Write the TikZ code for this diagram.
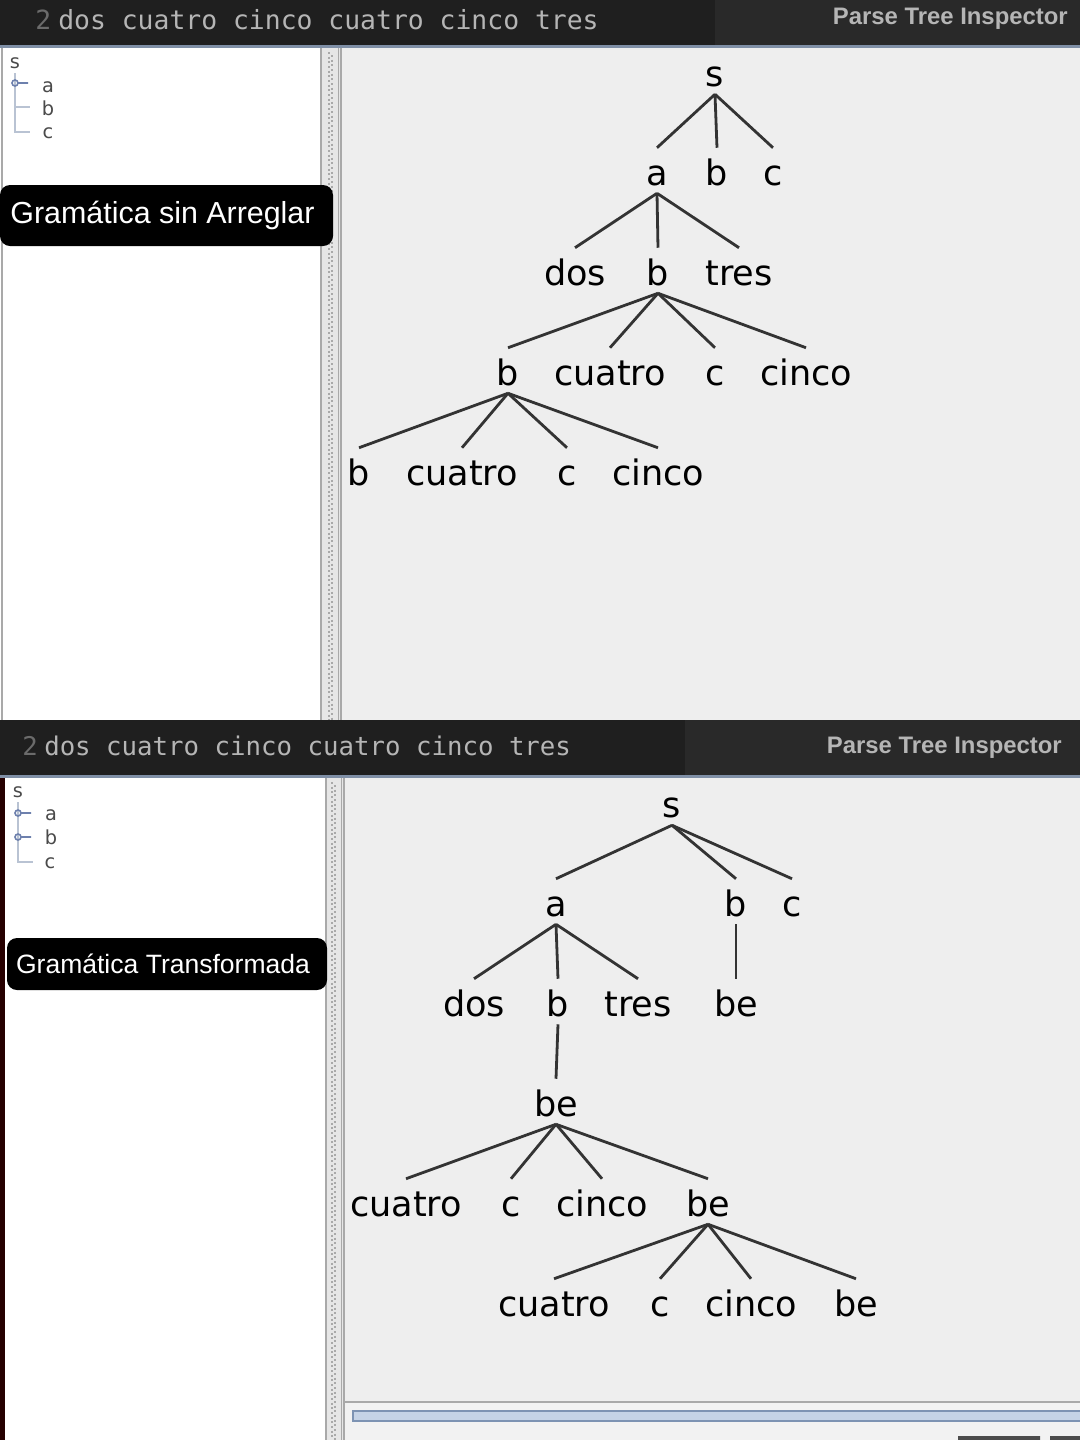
\documentclass[tikz,border=0pt]{standalone}
\usepackage{fontspec}
\newfontfamily\treefont{DejaVu Sans}
\newfontfamily\barfont{DejaVu Sans Mono}
\newfontfamily\tagfont{Liberation Sans}
\usetikzlibrary{positioning}
\definecolor{bardark}{HTML}{1F1F1F}
\definecolor{barmid}{HTML}{292929}
\definecolor{barline}{HTML}{7F8FA6}
\definecolor{barnum}{HTML}{6B6B6B}
\definecolor{bartext}{HTML}{B5B5B5}
\definecolor{canvas}{HTML}{EEEEEE}
\definecolor{splitgray}{HTML}{E6E6E6}
\definecolor{panelborder}{HTML}{A9A9A9}
\definecolor{edgegray}{HTML}{333333}
\definecolor{treeline}{HTML}{B9C3D3}
\definecolor{treeicon}{HTML}{6D80AD}
\definecolor{minitext}{HTML}{4A4A4A}
\definecolor{scrollfill}{HTML}{C5D3E6}
\definecolor{scrolledge}{HTML}{7D93B3}

\begin{document}
\begin{tikzpicture}[x=0.75pt,y=-0.75pt]
\tikzset{
    treelabel/.style={
           font=\treefont\fontsize{26.3}{30}\selectfont,
           inner sep=0pt,
           text height=27.75pt,
           text depth=6pt,
           anchor=base},
    branch/.style={
           line width=2.1pt,
           draw=edgegray},
    barcmd/.style={
           font=\barfont\fontsize{19.8}{22}\selectfont,
           text=bartext,
           inner sep=0pt,
           anchor=base west},
    bartitle/.style={
           font=\tagfont\bfseries\fontsize{17.9}{20}\selectfont,
           text=bartext,
           inner sep=0pt,
           anchor=base east},
    tagbox/.style={
           rectangle,
           rounded corners=7.5pt,
           fill=black,
           text=white,
           inner sep=0pt},
    minilabel/.style={
           font=\treefont\fontsize{14.5}{16}\selectfont,
           text=minitext,
           inner sep=0pt,
           anchor=base},
    % lines of the small tree on the left
    miniline/.style={
           line width=0.9pt,
           draw=treeline}
}
\useasboundingbox (0,0) rectangle (1080,1440);

% upper window
\fill[bardark] (0,0) rectangle (715,45);
\fill[barmid] (715,0) rectangle (1080,45);
\fill[barline] (0,45) rectangle (1080,48);
\fill[white] (0,48) rectangle (320,720);
\draw[panelborder,line width=1.5pt] (2,48) -- (2,720);
\fill[splitgray] (320,48) rectangle (340,720);
\draw[panelborder,line width=1pt] (321,48) -- (321,720) (338.5,48) -- (338.5,720);
\draw[panelborder,dotted,line width=1.5pt] (329,52) -- (329,720);
\draw[panelborder,dotted,line width=1.5pt] (332,55) -- (332,720);
\fill[canvas] (340,48) rectangle (1080,720);
\draw[panelborder,line width=1.5pt] (341,48) -- (341,720);

\node[barcmd,text=barnum] (num1) at (35,29) {2};
\node[barcmd] (cmd1) at (58,29) {dos cuatro cinco cuatro cinco tres};
\node[bartitle] (title1) at (1068,24) {Parse Tree Inspector};

\node[minilabel] (ms1) at (15,68) {s};
\node[minilabel] (ma1) at (48,92) {a};
\node[minilabel] (mb1) at (48,115) {b};
\node[minilabel] (mc1) at (48,138) {c};
\draw[miniline] (15,73) -- (15,132) -- (30,132);
\draw[miniline] (15,107) -- (30,107);
\draw[treeicon,line width=1.2pt] (15,83) circle (3) (18,83) -- (28,83);

\node[tagbox,minimum width=249.75pt,minimum height=45.75pt,
      font=\tagfont\fontsize{22.8}{26}\selectfont] (tag1) at (166.5,215.5) {Gramática sin Arreglar\hspace*{6pt}};

% first parse tree
\node[treelabel] (s1) at (715,86) {s};
\node[treelabel] (a1) at (657,185) {a};
\node[treelabel] (b1) at (717,185) {b};
\node[treelabel] (c1) at (773,185) {c};
\node[treelabel] (dos1) at (575,285) {dos};
\node[treelabel] (bb1) at (658,285) {b};
\node[treelabel] (tres1) at (739,285) {tres};
\node[treelabel] (bbb1) at (508,385) {b};
\node[treelabel] (cua1) at (610,385) {cuatro};
\node[treelabel] (cc1) at (715,385) {c};
\node[treelabel] (cin1) at (806,385) {cinco};
\node[treelabel] (bbbb1) at (359,485) {b};
\node[treelabel] (cuaa1) at (462,485) {cuatro};
\node[treelabel] (ccc1) at (567,485) {c};
\node[treelabel] (cinn1) at (658,485) {cinco};
\draw[branch] (s1.south) -- (a1.north);
\draw[branch] (s1.south) -- (b1.north);
\draw[branch] (s1.south) -- (c1.north);
\draw[branch] (a1.south) -- (dos1.north);
\draw[branch] (a1.south) -- (bb1.north);
\draw[branch] (a1.south) -- (tres1.north);
\draw[branch] (bb1.south) -- (bbb1.north);
\draw[branch] (bb1.south) -- (cua1.north);
\draw[branch] (bb1.south) -- (cc1.north);
\draw[branch] (bb1.south) -- (cin1.north);
\draw[branch] (bbb1.south) -- (bbbb1.north);
\draw[branch] (bbb1.south) -- (cuaa1.north);
\draw[branch] (bbb1.south) -- (ccc1.north);
\draw[branch] (bbb1.south) -- (cinn1.north);

% lower window
\fill[black!85!red] (0,720) rectangle (5,1440);
\fill[bardark] (0,720) rectangle (685,775);
\fill[barmid] (685,720) rectangle (1080,775);
\fill[barline] (0,775) rectangle (1080,778);
\fill[white] (5,778) rectangle (325,1440);
\fill[splitgray] (325,778) rectangle (343,1440);
\draw[panelborder,line width=1pt] (326,778) -- (326,1440) (341.5,778) -- (341.5,1440);
\draw[panelborder,dotted,line width=1.5pt] (332,782) -- (332,1440);
\draw[panelborder,dotted,line width=1.5pt] (335,785) -- (335,1440);
\fill[canvas] (343,778) rectangle (1080,1440);
\draw[panelborder,line width=1.5pt] (344,778) -- (344,1440);
\draw[panelborder,line width=1.5pt] (344,1402) -- (1080,1402);
\fill[black!5] (345,1403) rectangle (1080,1440);
\draw[scrolledge,fill=scrollfill,line width=1pt] (353,1411) rectangle (1085,1421);
\fill[black!70] (958,1436) rectangle (1040,1440) (1050,1436) rectangle (1080,1440);

\node[barcmd,text=barnum,font=\barfont\fontsize{19.3}{22}\selectfont] (num2) at (22,755) {2};
\node[barcmd,font=\barfont\fontsize{19.3}{22}\selectfont] (cmd2) at (44,755) {dos cuatro cinco cuatro cinco tres};
\node[bartitle] (title2) at (1062,753) {Parse Tree Inspector};

\node[minilabel] (ms2) at (18,797) {s};
\node[minilabel] (ma2) at (51,820) {a};
\node[minilabel] (mb2) at (51,844) {b};
\node[minilabel] (mc2) at (50,868) {c};
\draw[miniline] (18,802) -- (18,862) -- (33,862);
\draw[treeicon,line width=1.2pt] (18,813) circle (3) (21,813) -- (31,813);
\draw[treeicon,line width=1.2pt] (18,837) circle (3) (21,837) -- (31,837);

\node[tagbox,minimum width=240pt,minimum height=39pt,
      font=\tagfont\fontsize{19.9}{23}\selectfont] (tag2) at (167,964) {Gramática Transformada\hspace*{6pt}};

% second parse tree
\node[treelabel] (s2) at (672,817) {s};
\node[treelabel] (a2) at (556,916) {a};
\node[treelabel] (b2) at (736,916) {b};
\node[treelabel] (c2) at (792,916) {c};
\node[treelabel] (dos2) at (474,1016) {dos};
\node[treelabel] (bb2) at (558,1016) {b};
\node[treelabel] (tres2) at (638,1016) {tres};
\node[treelabel] (be2) at (736,1016) {be};
\node[treelabel] (bee2) at (556,1116) {be};
\node[treelabel] (cua2) at (406,1216) {cuatro};
\node[treelabel] (cc2) at (511,1216) {c};
\node[treelabel] (cin2) at (602,1216) {cinco};
\node[treelabel] (beee2) at (708,1216) {be};
\node[treelabel] (cuaa2) at (554,1316) {cuatro};
\node[treelabel] (ccc2) at (660,1316) {c};
\node[treelabel] (cinn2) at (751,1316) {cinco};
\node[treelabel] (beeee2) at (856,1316) {be};
\draw[branch] (s2.south) -- (a2.north);
\draw[branch] (s2.south) -- (b2.north);
\draw[branch] (s2.south) -- (c2.north);
\draw[branch] (a2.south) -- (dos2.north);
\draw[branch] (a2.south) -- (bb2.north);
\draw[branch] (a2.south) -- (tres2.north);
\draw[branch] (b2.south) -- (be2.north);
\draw[branch] (bb2.south) -- (bee2.north);
\draw[branch] (bee2.south) -- (cua2.north);
\draw[branch] (bee2.south) -- (cc2.north);
\draw[branch] (bee2.south) -- (cin2.north);
\draw[branch] (bee2.south) -- (beee2.north);
\draw[branch] (beee2.south) -- (cuaa2.north);
\draw[branch] (beee2.south) -- (ccc2.north);
\draw[branch] (beee2.south) -- (cinn2.north);
\draw[branch] (beee2.south) -- (beeee2.north);
\end{tikzpicture}
\end{document}
